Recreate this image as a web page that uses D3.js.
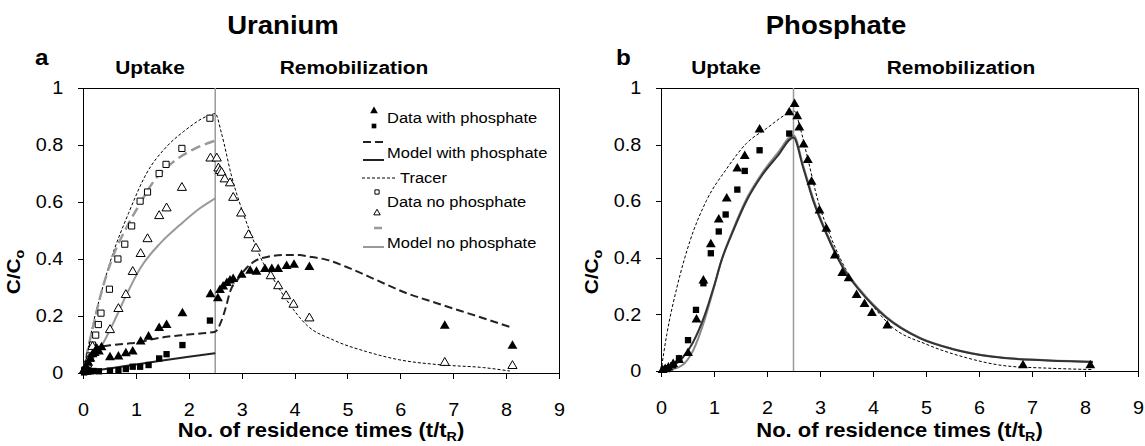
<!DOCTYPE html>
<html>
<head>
<meta charset="utf-8">
<style>
  body { margin: 0; background: #fff; }
  text { font-family: Arial, "Liberation Sans", Helvetica, sans-serif; fill: #000; }
  .axis path, .axis line { stroke: #000; stroke-width: 1; shape-rendering: crispEdges; }
  .axis text { font-size: 18px; }
</style>
<script src="https://cdn.jsdelivr.net/npm/d3@7"></script>
</head>
<body>
<script>
// ---- chart values: [t/tR, C/Co] ----
var xTicks = [0, 1, 2, 3, 4, 5, 6, 7, 8, 9];
var yTicks = [0, 0.2, 0.4, 0.6, 0.8, 1];
var switchTime = 2.5;
var panelTitles = ["Uranium", "Phosphate"];
var panelLetters = ["a", "b"];
var phaseLabels = ["Uptake", "Remobilization"];
var legendLabels = ["Data with phosphate", "Model with phosphate", "Tracer", "Data no phosphate", "Model no phosphate"];

// uranium (panel a)
var uDataWithTri = [[0.02,0.01],[0.06,0.02],[0.1,0.035],[0.14,0.05],[0.18,0.065],[0.22,0.07],[0.26,0.085],[0.3,0.075],[0.35,0.09],
  [0.51,0.055],[0.67,0.057],[0.81,0.069],[0.94,0.075],[1.09,0.11],[1.24,0.127],[1.44,0.157],[1.58,0.168],[1.88,0.209],
  [2.41,0.276],[2.55,0.262],[2.59,0.291],[2.65,0.303],[2.72,0.315],[2.78,0.324],[2.84,0.329],[3.0,0.344],[3.16,0.358],
  [3.28,0.355],[3.44,0.364],[3.57,0.364],[3.69,0.364],[3.85,0.375],[3.99,0.379],[4.28,0.371],[6.84,0.165],[8.12,0.095]];
var uDataWithSq = [[0.02,0.002],[0.06,0.004],[0.1,0.005],[0.15,0.006],[0.2,0.007],[0.3,0.006],[0.51,0.008],[0.67,0.01],
  [0.81,0.014],[0.94,0.022],[1.08,0.022],[1.24,0.028],[1.44,0.051],[1.58,0.066],[1.88,0.098],[2.40,0.184]];
var uDataNoSq = [[0.03,0.01],[0.08,0.03],[0.13,0.06],[0.18,0.098],[0.24,0.133],[0.29,0.17],[0.34,0.21],[0.50,0.294],
  [0.66,0.40],[0.79,0.452],[0.92,0.516],[1.08,0.603],[1.22,0.635],[1.44,0.70],[1.57,0.732],[1.87,0.788],[2.40,0.894]];
var uDataNoTri = [[0.03,0.01],[0.08,0.03],[0.12,0.05],[0.18,0.092],[0.51,0.151],[0.67,0.225],[0.81,0.274],[0.94,0.355],
  [1.09,0.418],[1.22,0.47],[1.44,0.551],[1.58,0.578],[1.87,0.65],[2.41,0.753],[2.53,0.753],[2.56,0.718],[2.59,0.709],
  [2.62,0.703],[2.68,0.68],[2.78,0.666],[2.84,0.615],[2.99,0.56],[3.13,0.484],[3.27,0.437],[3.55,0.34],[3.69,0.305],
  [3.84,0.27],[3.98,0.24],[4.28,0.192],[6.84,0.036],[8.12,0.025]];
var uModelWithTri = [[0,0],[0.05,0.03],[0.1,0.055],[0.2,0.08],[0.32,0.092],[0.51,0.097],[0.89,0.104],[1.58,0.127],[2.0,0.135],
  [2.5,0.145],[2.6,0.175],[2.7,0.23],[2.78,0.285],[2.94,0.332],[3.1,0.37],[3.28,0.396],[3.5,0.408],[3.79,0.414],[4.1,0.414],
  [4.23,0.41],[4.61,0.397],[5.05,0.367],[5.55,0.326],[6.05,0.285],[6.69,0.245],[7.44,0.2],[8.07,0.162]];
var uModelWithSq = [[0,0],[0.2,0.008],[0.5,0.016],[1.0,0.03],[1.5,0.044],[2.0,0.057],[2.5,0.069]];
var uTracer = [[0,0],[0.1,0.09],[0.2,0.18],[0.32,0.265],[0.54,0.405],[0.86,0.56],[1.2,0.70],[1.58,0.794],[1.9,0.847],
  [2.4,0.905],[2.5,0.91],[2.62,0.84],[2.81,0.69],[3.03,0.56],[3.22,0.467],[3.41,0.385],[3.53,0.35],[3.85,0.256],
  [4.23,0.168],[4.73,0.116],[5.36,0.075],[5.99,0.046],[6.81,0.028],[7.57,0.019],[8.07,0.007]];
var uModelNoSq = [[0,0],[0.1,0.09],[0.2,0.17],[0.31,0.256],[0.54,0.396],[0.83,0.513],[1.08,0.595],[1.33,0.671],
  [1.71,0.741],[2.09,0.785],[2.5,0.815]];
var uModelNoTri = [[0,0],[0.1,0.03],[0.2,0.055],[0.35,0.095],[0.57,0.174],[0.81,0.27],[1.08,0.367],[1.46,0.455],
  [1.83,0.519],[2.21,0.578],[2.5,0.613]];

// phosphate (panel b)
var pDataTri = [[0.03,0.003],[0.08,0.006],[0.14,0.012],[0.23,0.024],[0.34,0.038],[0.51,0.063],[0.67,0.181],[0.80,0.319],
  [0.94,0.447],[1.09,0.535],[1.24,0.609],[1.44,0.715],[1.58,0.759],[1.86,0.853],[2.42,0.914],[2.52,0.943],[2.57,0.90],
  [2.61,0.86],[2.69,0.80],[2.77,0.745],[2.84,0.668],[2.99,0.567],[3.12,0.502],[3.28,0.408],[3.42,0.346],[3.54,0.327],
  [3.69,0.268],[3.84,0.236],[3.98,0.204],[4.27,0.16],[6.83,0.02],[8.1,0.02]];
var pDataSq = [[0.05,0.005],[0.13,0.01],[0.23,0.02],[0.34,0.045],[0.51,0.109],[0.66,0.216],[0.80,0.31],[0.94,0.416],
  [1.09,0.493],[1.22,0.553],[1.44,0.641],[1.58,0.707],[1.86,0.78],[2.42,0.839]];
var pModelWith = [[0,0],[0.2,0.015],[0.4,0.045],[0.6,0.1],[0.83,0.2],[1.0,0.3],[1.14,0.39],[1.35,0.49],[1.61,0.6],
  [1.9,0.69],[2.2,0.76],[2.5,0.825],
  [2.68,0.72],[2.87,0.603],[3.12,0.485],[3.43,0.366],[3.75,0.284],[4.25,0.189],[4.88,0.116],[5.51,0.077],[6.26,0.05],
  [7.2,0.038],[8.15,0.032]];
var pModelNo = [[0,0],[0.2,0.005],[0.4,0.02],[0.6,0.07],[0.83,0.185],[1.0,0.295],[1.14,0.39],[1.35,0.495],[1.61,0.607],
  [1.9,0.697],[2.2,0.77],[2.5,0.833],
  [2.68,0.727],[2.87,0.61],[3.12,0.49],[3.43,0.37],[3.75,0.288],[4.25,0.192],[4.88,0.118],[5.51,0.078],[6.26,0.051],
  [7.2,0.039],[8.15,0.033]];
var pTracer = [[0,0],[0.11,0.13],[0.3,0.295],[0.55,0.461],[0.86,0.603],[1.24,0.715],[1.61,0.804],[1.99,0.857],[2.42,0.912],
  [2.52,0.918],[2.62,0.863],[2.77,0.75],[2.96,0.603],[3.18,0.485],[3.5,0.355],[3.87,0.26],[4.37,0.154],[5.0,0.095],
  [5.76,0.047],[6.51,0.018],[7.3,0.01],[8.15,0.005]];

// ---- styles ----
var stretch = "scale(1.1,1)"; // text in the figure is slightly wide
var styles = {
  dashBlack: {stroke: "#222", width: 2, dash: "8,4"},
  solidBlack: {stroke: "#222", width: 2, dash: null},
  tracer: {stroke: "#000", width: 1, dash: "3,2"},
  dashGray: {stroke: "#999", width: 2.5, dash: "10,5"},
  solidGray: {stroke: "#999", width: 2, dash: null},
  pBlack: {stroke: "#333", width: 2, dash: null},
  pGray: {stroke: "#8a8a8a", width: 2, dash: null}
};
var markers = {
  filledTri: {type: d3.symbolTriangle, size: 42, fill: "#000", stroke: "none"},
  filledSq: {type: d3.symbolSquare, size: 40, fill: "#000", stroke: "none"},
  openSq: {type: d3.symbolSquare, size: 38, fill: "#fff", stroke: "#000"},
  openTri: {type: d3.symbolTriangle, size: 36, fill: "#fff", stroke: "#000"}
};

var svg = d3.select("body").append("svg")
    .attr("width", 1145)
    .attr("height", 446);

function txt(g, x, y, str, size, weight, anchor) {
  return g.append("text")
      .attr("transform", "translate(" + x + "," + y + ")" + stretch)
      .attr("text-anchor", anchor || "middle")
      .style("font-size", size + "px")
      .style("font-weight", weight || "normal")
      .text(str);
}

function drawPanel(p) {
  var x = d3.scaleLinear().domain([0, 9]).range([p.left, p.right]);
  var y = d3.scaleLinear().domain([0, 1]).range([p.bottom, p.top]);
  var g = svg.append("g");

  // frame: top and right edge
  g.append("path")
      .attr("d", "M" + x(0) + "," + y(1) + "H" + x(9) + "V" + y(0))
      .attr("fill", "none").attr("stroke", "#000").attr("shape-rendering", "crispEdges");

  // uptake / remobilization divider
  g.append("line")
      .attr("x1", x(switchTime)).attr("x2", x(switchTime))
      .attr("y1", y(0)).attr("y2", y(1))
      .attr("stroke", "#9a9a9a").attr("stroke-width", 1.5);

  var xAxis = g.append("g").attr("class", "axis")
      .attr("transform", "translate(0," + y(0) + ")")
      .call(d3.axisBottom(x).tickValues(xTicks).tickSizeInner(6).tickSizeOuter(0).tickPadding(24));
  xAxis.selectAll("text").attr("transform", stretch);

  var yAxis = g.append("g").attr("class", "axis")
      .attr("transform", "translate(" + x(0) + ",0)")
      .call(d3.axisLeft(y).tickValues(yTicks).tickSizeInner(5).tickSizeOuter(0).tickPadding(13)
        .tickFormat(function(d) { return String(+d.toFixed(1)); }));
  yAxis.selectAll("text").attr("transform", stretch);

  var line = d3.line()
      .x(function(d) { return x(d[0]); })
      .y(function(d) { return y(d[1]); })
      .curve(d3.curveMonotoneX);

  p.lines.forEach(function(l) {
    g.append("path")
        .datum(l.data)
        .attr("d", line)
        .attr("fill", "none")
        .attr("stroke", l.style.stroke)
        .attr("stroke-width", l.style.width)
        .attr("stroke-dasharray", l.style.dash);
  });

  p.points.forEach(function(s) {
    var sym = d3.symbol().type(s.marker.type).size(s.marker.size);
    g.append("g").selectAll("path")
        .data(s.data)
      .enter().append("path")
        .attr("transform", function(d) { return "translate(" + x(d[0]) + "," + y(d[1]) + ")"; })
        .attr("d", sym)
        .attr("fill", s.marker.fill)
        .attr("stroke", s.marker.stroke)
        .attr("stroke-width", 1);
  });

  // titles and labels
  txt(g, p.titleX, 34, p.title, 25, "bold");
  txt(g, p.letterX, 65, p.letter, 22, "bold", "start");
  txt(g, p.uptakeX, 74, phaseLabels[0], 19, "bold");
  txt(g, p.remobX, 74, phaseLabels[1], 19, "bold");

  var xl = txt(g, (p.left + p.right) / 2, 437, "No. of residence times (t/t", 20, "bold");
  xl.append("tspan").attr("font-size", "13px").attr("dy", 4).text("R");
  xl.append("tspan").attr("dy", -4).text(")");

  var yl = g.append("text")
      .attr("transform", "translate(" + (p.left - 63) + ",272) rotate(-90)" + stretch)
      .attr("text-anchor", "middle")
      .style("font-size", "19px").style("font-weight", "bold")
      .text("C/C");
  yl.append("tspan").attr("font-size", "13px").attr("dy", 4).text("o");

  return g;
}

// ---- panel a ----
var ga = drawPanel({
  left: 83, right: 559, top: 88, bottom: 373,
  title: panelTitles[0], letter: panelLetters[0],
  titleX: 283, letterX: 35, uptakeX: 150, remobX: 354,
  lines: [
    {data: uTracer, style: styles.tracer},
    {data: uModelNoSq, style: styles.dashGray},
    {data: uModelNoTri, style: styles.solidGray},
    {data: uModelWithTri, style: styles.dashBlack},
    {data: uModelWithSq, style: styles.solidBlack}
  ],
  points: [
    {data: uDataNoSq, marker: markers.openSq},
    {data: uDataNoTri, marker: markers.openTri},
    {data: uDataWithSq, marker: markers.filledSq},
    {data: uDataWithTri, marker: markers.filledTri}
  ]
});

// ---- panel b ----
drawPanel({
  left: 661, right: 1138, top: 88, bottom: 371,
  title: panelTitles[1], letter: panelLetters[1],
  titleX: 836, letterX: 616, uptakeX: 726, remobX: 961,
  lines: [
    {data: pTracer, style: styles.tracer},
    {data: pModelNo, style: styles.pGray},
    {data: pModelWith, style: styles.pBlack}
  ],
  points: [
    {data: pDataSq, marker: markers.filledSq},
    {data: pDataTri, marker: markers.filledTri}
  ]
});

// ---- legend (panel a) ----
var lg = ga.append("g");
function legSym(m, cx, cy, size) {
  lg.append("path")
      .attr("transform", "translate(" + cx + "," + cy + ")")
      .attr("d", d3.symbol().type(m.type).size(size))
      .attr("fill", m.fill).attr("stroke", m.stroke);
}
function legLine(st, x1, x2, cy) {
  lg.append("line")
      .attr("x1", x1).attr("x2", x2).attr("y1", cy).attr("y2", cy)
      .attr("stroke", st.stroke).attr("stroke-width", st.width)
      .attr("stroke-dasharray", st.dash);
}
legSym(markers.filledTri, 374, 111, 26);
legSym(markers.filledSq, 374, 126, 22);
txt(lg, 387, 123, legendLabels[0], 15, "normal", "start");
legLine(styles.dashBlack, 363, 384, 142);
legLine(styles.solidBlack, 363, 384, 160);
txt(lg, 387, 158, legendLabels[1], 15, "normal", "start");
legLine(styles.tracer, 362, 397, 178);
txt(lg, 400, 183, legendLabels[2], 15, "normal", "start");
legSym(markers.openSq, 377, 192, 18);
legSym(markers.openTri, 377, 213, 18);
txt(lg, 387, 207, legendLabels[3], 15, "normal", "start");
legLine(styles.dashGray, 374, 382, 228);
legLine(styles.solidGray, 363, 384, 247);
txt(lg, 387, 248, legendLabels[4], 15, "normal", "start");
</script>
</body>
</html>
